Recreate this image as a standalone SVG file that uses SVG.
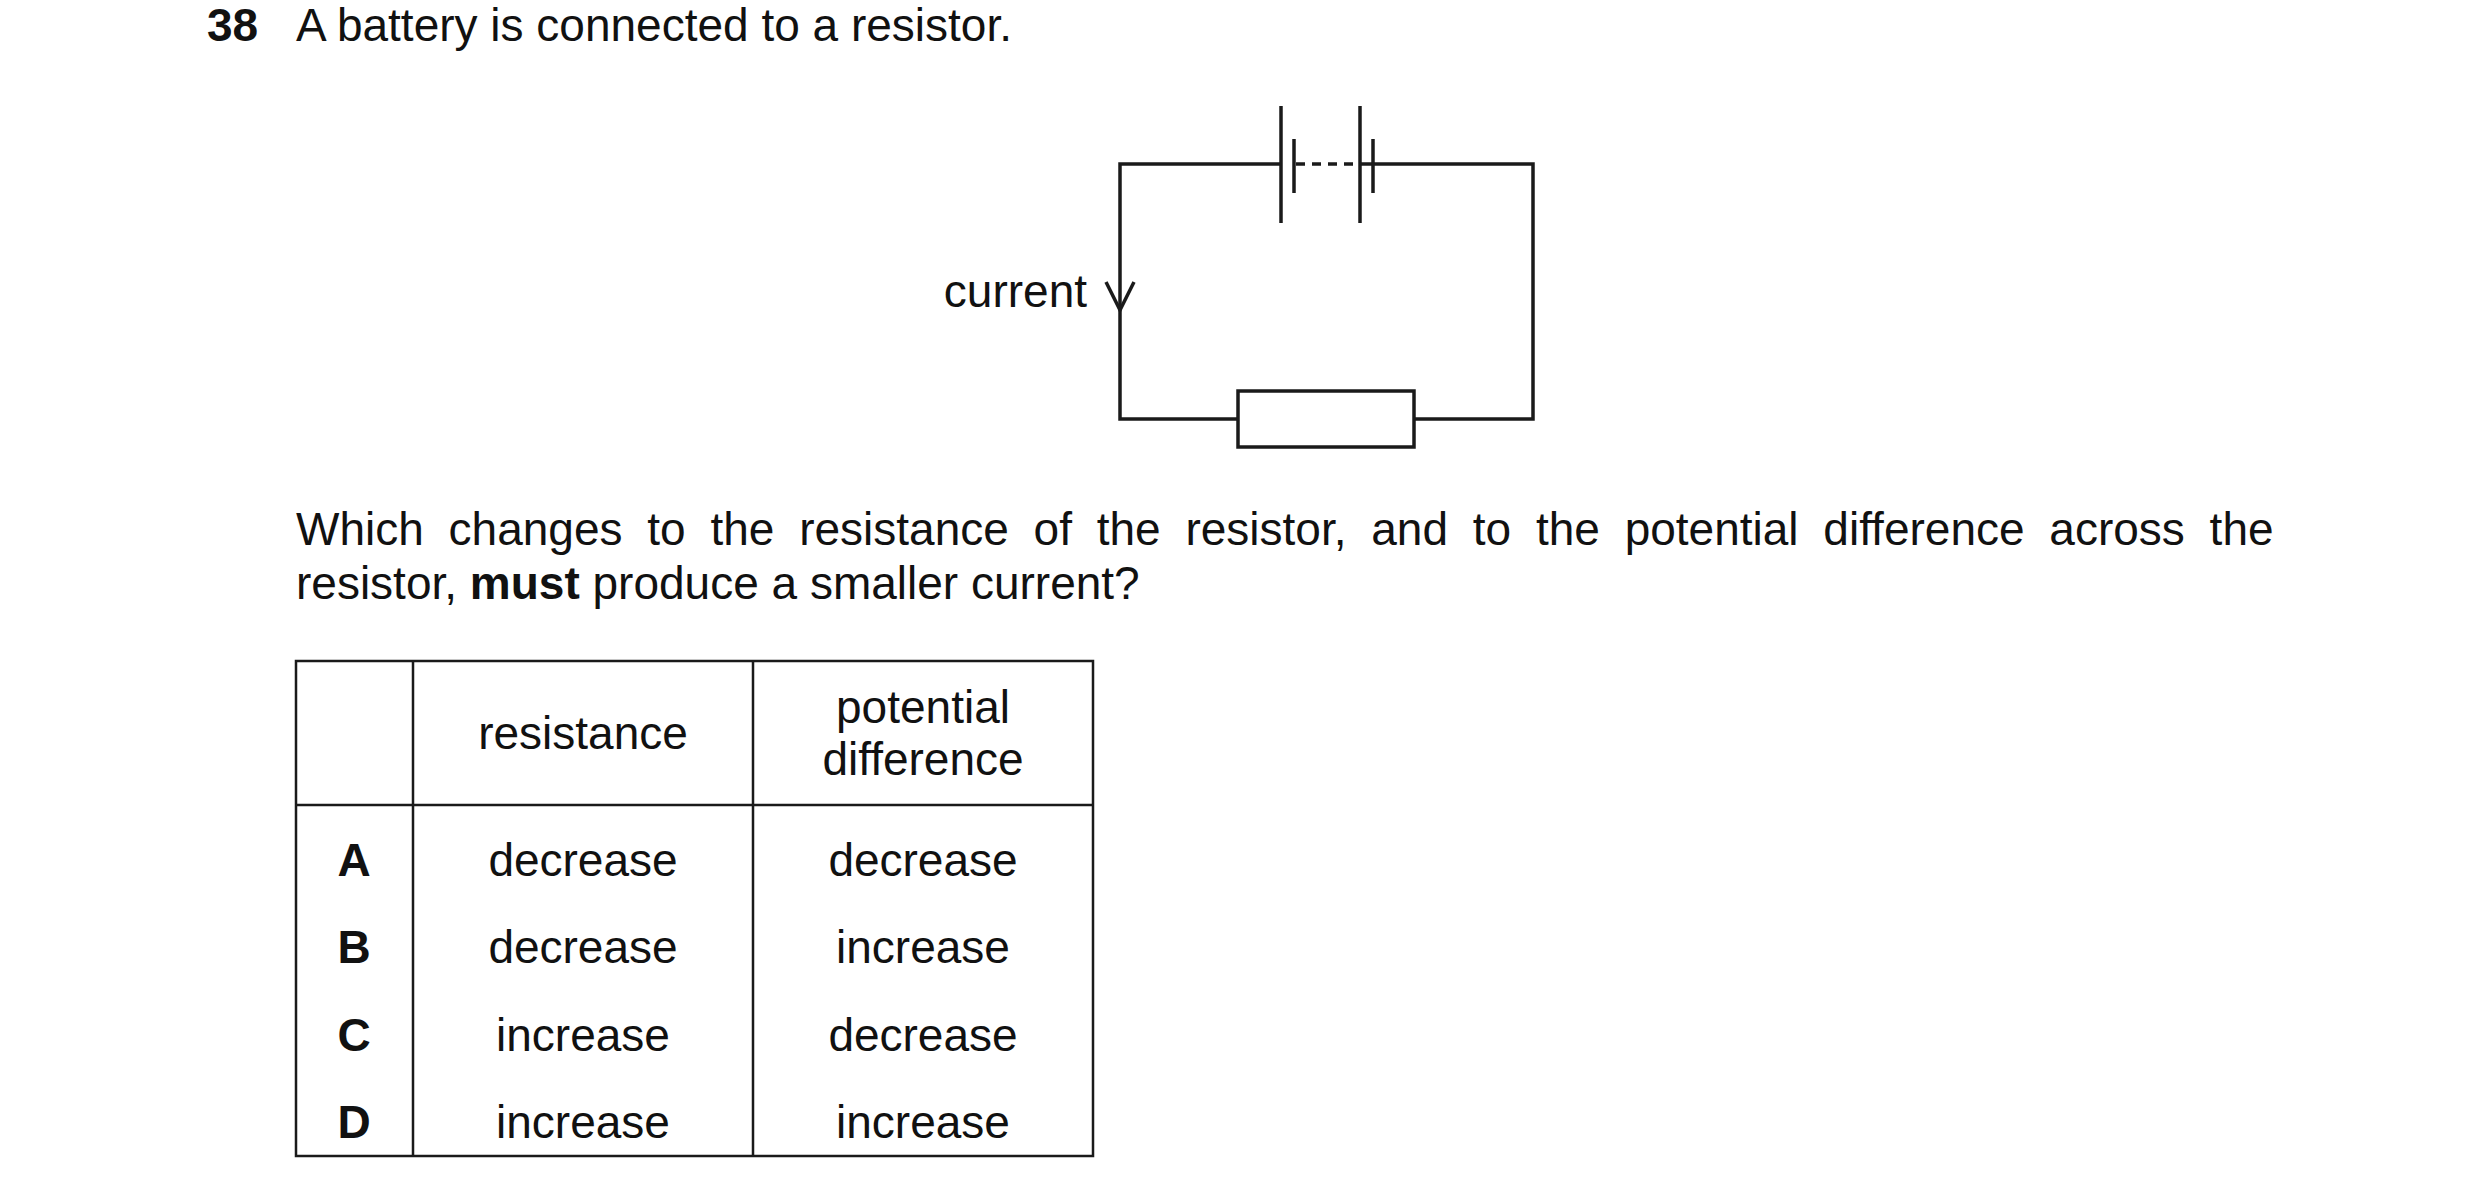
<svg xmlns="http://www.w3.org/2000/svg" width="2480" height="1197" viewBox="0 0 2480 1197">
<style>
text{font-family:"Liberation Sans",Arial,sans-serif;font-size:46px;fill:#111}
.b{font-weight:bold}
.c{text-anchor:middle}
.w{stroke:#1a1a1a;stroke-width:3.5;fill:none}
.t{stroke:#1a1a1a;stroke-width:2.5;fill:none}
</style>
<rect width="2480" height="1197" fill="#fff"/>
<text x="207" y="41" class="b">38</text>
<text x="296" y="41">A battery is connected to a resistor.</text>
<g id="connectors">
<polyline class="w" points="1281,164 1120,164 1120,419 1238,419"/>
<polyline class="w" points="1360,164 1533,164 1533,419 1414,419"/>
<line class="w" x1="1296" y1="164" x2="1358" y2="164" stroke-dasharray="9,7"/>
<polyline class="w" points="1106,282 1120,310 1134,282"/>
</g>
<g id="battery">
<line class="w" x1="1281" y1="106" x2="1281" y2="223"/>
<line class="w" x1="1294" y1="139" x2="1294" y2="193"/>
<line class="w" x1="1360" y1="106" x2="1360" y2="223"/>
<line class="w" x1="1373" y1="139" x2="1373" y2="193"/>
</g>
<g id="resistor"><rect class="w" x="1238" y="391" width="176" height="56"/></g>
<g id="label"><text x="1087" y="307" text-anchor="end">current</text></g>
<text x="296" y="545" word-spacing="12">Which changes to the resistance of the resistor, and to the potential difference across the</text>
<text x="296" y="599">resistor, <tspan class="b">must</tspan> produce a smaller current?</text>
<g id="table">
<rect class="t" x="296" y="661" width="797" height="495"/>
<line class="t" x1="413" y1="661" x2="413" y2="1156"/>
<line class="t" x1="753" y1="661" x2="753" y2="1156"/>
<line class="t" x1="296" y1="805" x2="1093" y2="805"/>
<text x="583" y="749" class="c">resistance</text>
<text x="923" y="723" class="c">potential</text>
<text x="923" y="775" class="c">difference</text>
<text x="354" y="876" class="c b">A</text><text x="583" y="876" class="c">decrease</text><text x="923" y="876" class="c">decrease</text>
<text x="354" y="963" class="c b">B</text><text x="583" y="963" class="c">decrease</text><text x="923" y="963" class="c">increase</text>
<text x="354" y="1051" class="c b">C</text><text x="583" y="1051" class="c">increase</text><text x="923" y="1051" class="c">decrease</text>
<text x="354" y="1138" class="c b">D</text><text x="583" y="1138" class="c">increase</text><text x="923" y="1138" class="c">increase</text>
</g>
</svg>
